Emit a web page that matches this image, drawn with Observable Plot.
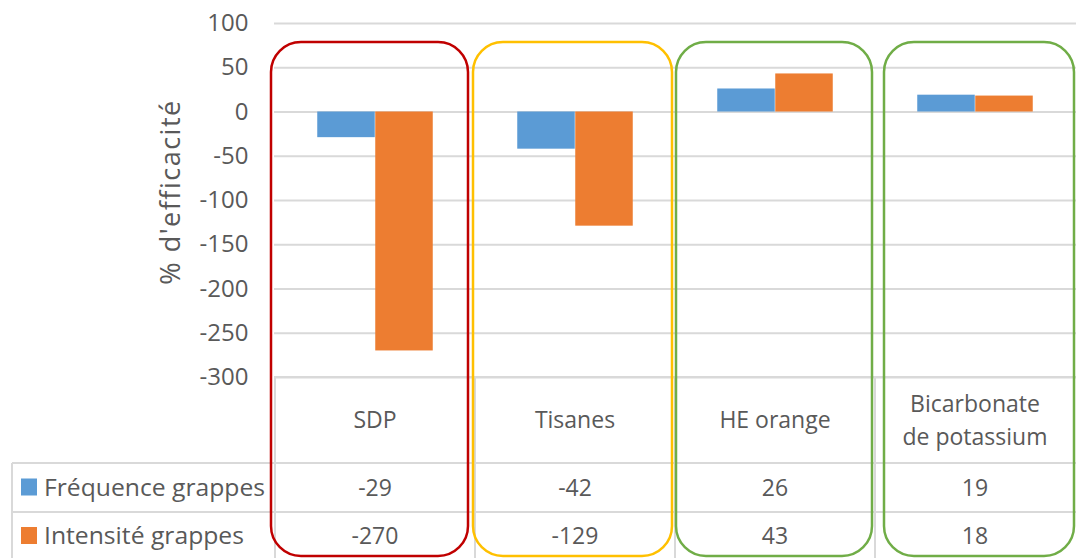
<!DOCTYPE html>
<html><head><meta charset="utf-8">
<script src="https://cdn.jsdelivr.net/npm/d3@7"></script>
<script src="https://cdn.jsdelivr.net/npm/@observablehq/plot@0.6"></script>
<style>body{margin:0;background:#fff;overflow:hidden}</style>
</head><body><div id="chart"></div>
<script>
const categories = ["SDP", "Tisanes", "HE orange", "Bicarbonate\nde potassium"];
const seriesNames = ["Fréquence grappes", "Intensité grappes"];
const frequence = [-29, -42, 26, 19];
const intensite = [-270, -129, 43, 18];
const yTicks = [100, 50, 0, -50, -100, -150, -200, -250, -300];
const seriesColors = ["#5B9BD5", "#ED7D31"];
const boxColors = ["#C00000", "#FFC000", "#70AD47", "#70AD47"];
const yLabel = "% d'efficacité";

const rows = categories.flatMap((c, i) => [
  {category: c, series: seriesNames[0], value: frequence[i]},
  {category: c, series: seriesNames[1], value: intensite[i]}
]);

const W = 1076, H = 558, ML = 274, MR = 0, MT = 23, MB = 181;
const bw = (W - ML - MR) / categories.length;
const barW = 58;
const textColor = "#595959";
const gridColor = "#D9D9D9";
const font = "Open Sans";

function overlay(index, scales, values, dims) {
  const x = scales.x;
  const step = x(categories[1]) - x(categories[0]);
  const top = dims.height - dims.marginBottom;
  const r1 = top + 86, r2 = r1 + 49, bottom = dims.height;
  const g = d3.create("svg:g").attr("font-family", font).attr("fill", textColor).attr("text-anchor", "start");
  const line = (x1, y1, x2, y2) => g.append("line").attr("x1", x1).attr("y1", y1).attr("x2", x2).attr("y2", y2)
    .attr("stroke", gridColor).attr("stroke-width", 2);
  // table grid
  line(dims.marginLeft, top, dims.width, top);
  line(12, r1, dims.width, r1);
  line(12, r2, dims.width, r2);
  line(12, r1, 12, bottom);
  categories.forEach((c, i) => line(x(c), top, x(c), bottom));
  // category labels
  categories.forEach((c) => {
    const lines = c.split("\n");
    const cx = x(c) + step / 2;
    const cy = (top + r1) / 2 - (lines.length - 1) * 33 / 2;
    lines.forEach((l, j) => g.append("text").attr("x", cx).attr("y", cy + j * 33).attr("dy", "0.35em")
      .attr("text-anchor", "middle").attr("font-size", 23).text(l));
  });
  // values rows
  [frequence, intensite].forEach((arr, k) => {
    const cy = k === 0 ? (r1 + r2) / 2 : (r2 + bottom) / 2 + 1;
    arr.forEach((v, i) => g.append("text").attr("x", x(categories[i]) + step / 2).attr("y", cy).attr("dy", "0.35em")
      .attr("text-anchor", "middle").attr("font-size", 23).text(String(v)));
    g.append("rect").attr("x", 21).attr("y", cy - 9).attr("width", 16).attr("height", 17).attr("fill", seriesColors[k]);
    g.append("text").attr("x", 44).attr("y", cy).attr("dy", "0.35em").attr("text-anchor", "start")
      .attr("font-size", 23).attr("textLength", k === 0 ? 221 : 200).attr("lengthAdjust", "spacingAndGlyphs").text(seriesNames[k]);
  });
  // y label
  g.append("text").attr("transform", `translate(180,${(dims.marginTop + top) / 2 - 8}) rotate(-90)`)
    .attr("text-anchor", "middle").attr("font-size", 27).attr("letter-spacing", 1.5).text(yLabel);
  // rounded boxes
  const insets = [[-4, 7], [-2, 3], [1, 3], [9, 1]];
  categories.forEach((c, i) => {
    const x0 = x(c) + insets[i][0], x1 = x(c) + step - insets[i][1];
    g.append("rect").attr("x", x0).attr("y", 42).attr("width", x1 - x0).attr("height", bottom - 44)
      .attr("rx", 30).attr("ry", 30).attr("fill", "none").attr("stroke", boxColors[i]).attr("stroke-width", 2.5);
  });
  return g.node();
}

const chart = Plot.plot({
  width: W, height: H,
  marginLeft: ML, marginRight: MR, marginTop: MT, marginBottom: MB,
  style: {fontFamily: font, color: textColor, background: "#fff"},
  x: {domain: categories, paddingInner: 0, paddingOuter: 0, axis: null},
  y: {domain: [-300, 100], axis: null},
  marks: [
    Plot.gridY(yTicks, {stroke: gridColor, strokeOpacity: 1, strokeWidth: 2}),
    Plot.axisY(yTicks, {tickSize: 0, tickPadding: 26, fontSize: 24, label: null, fill: textColor,
      tickFormat: d => String(d)}),
    Plot.barY(rows.filter(d => d.series === seriesNames[0]), {x: "category", y: "value", fill: seriesColors[0],
      insetLeft: bw / 2 - barW, insetRight: bw / 2}),
    Plot.barY(rows.filter(d => d.series === seriesNames[1]), {x: "category", y: "value", fill: seriesColors[1],
      insetLeft: bw / 2, insetRight: bw / 2 - barW}),
    overlay
  ]
});
document.getElementById("chart").append(chart);
</script>
</body></html>
